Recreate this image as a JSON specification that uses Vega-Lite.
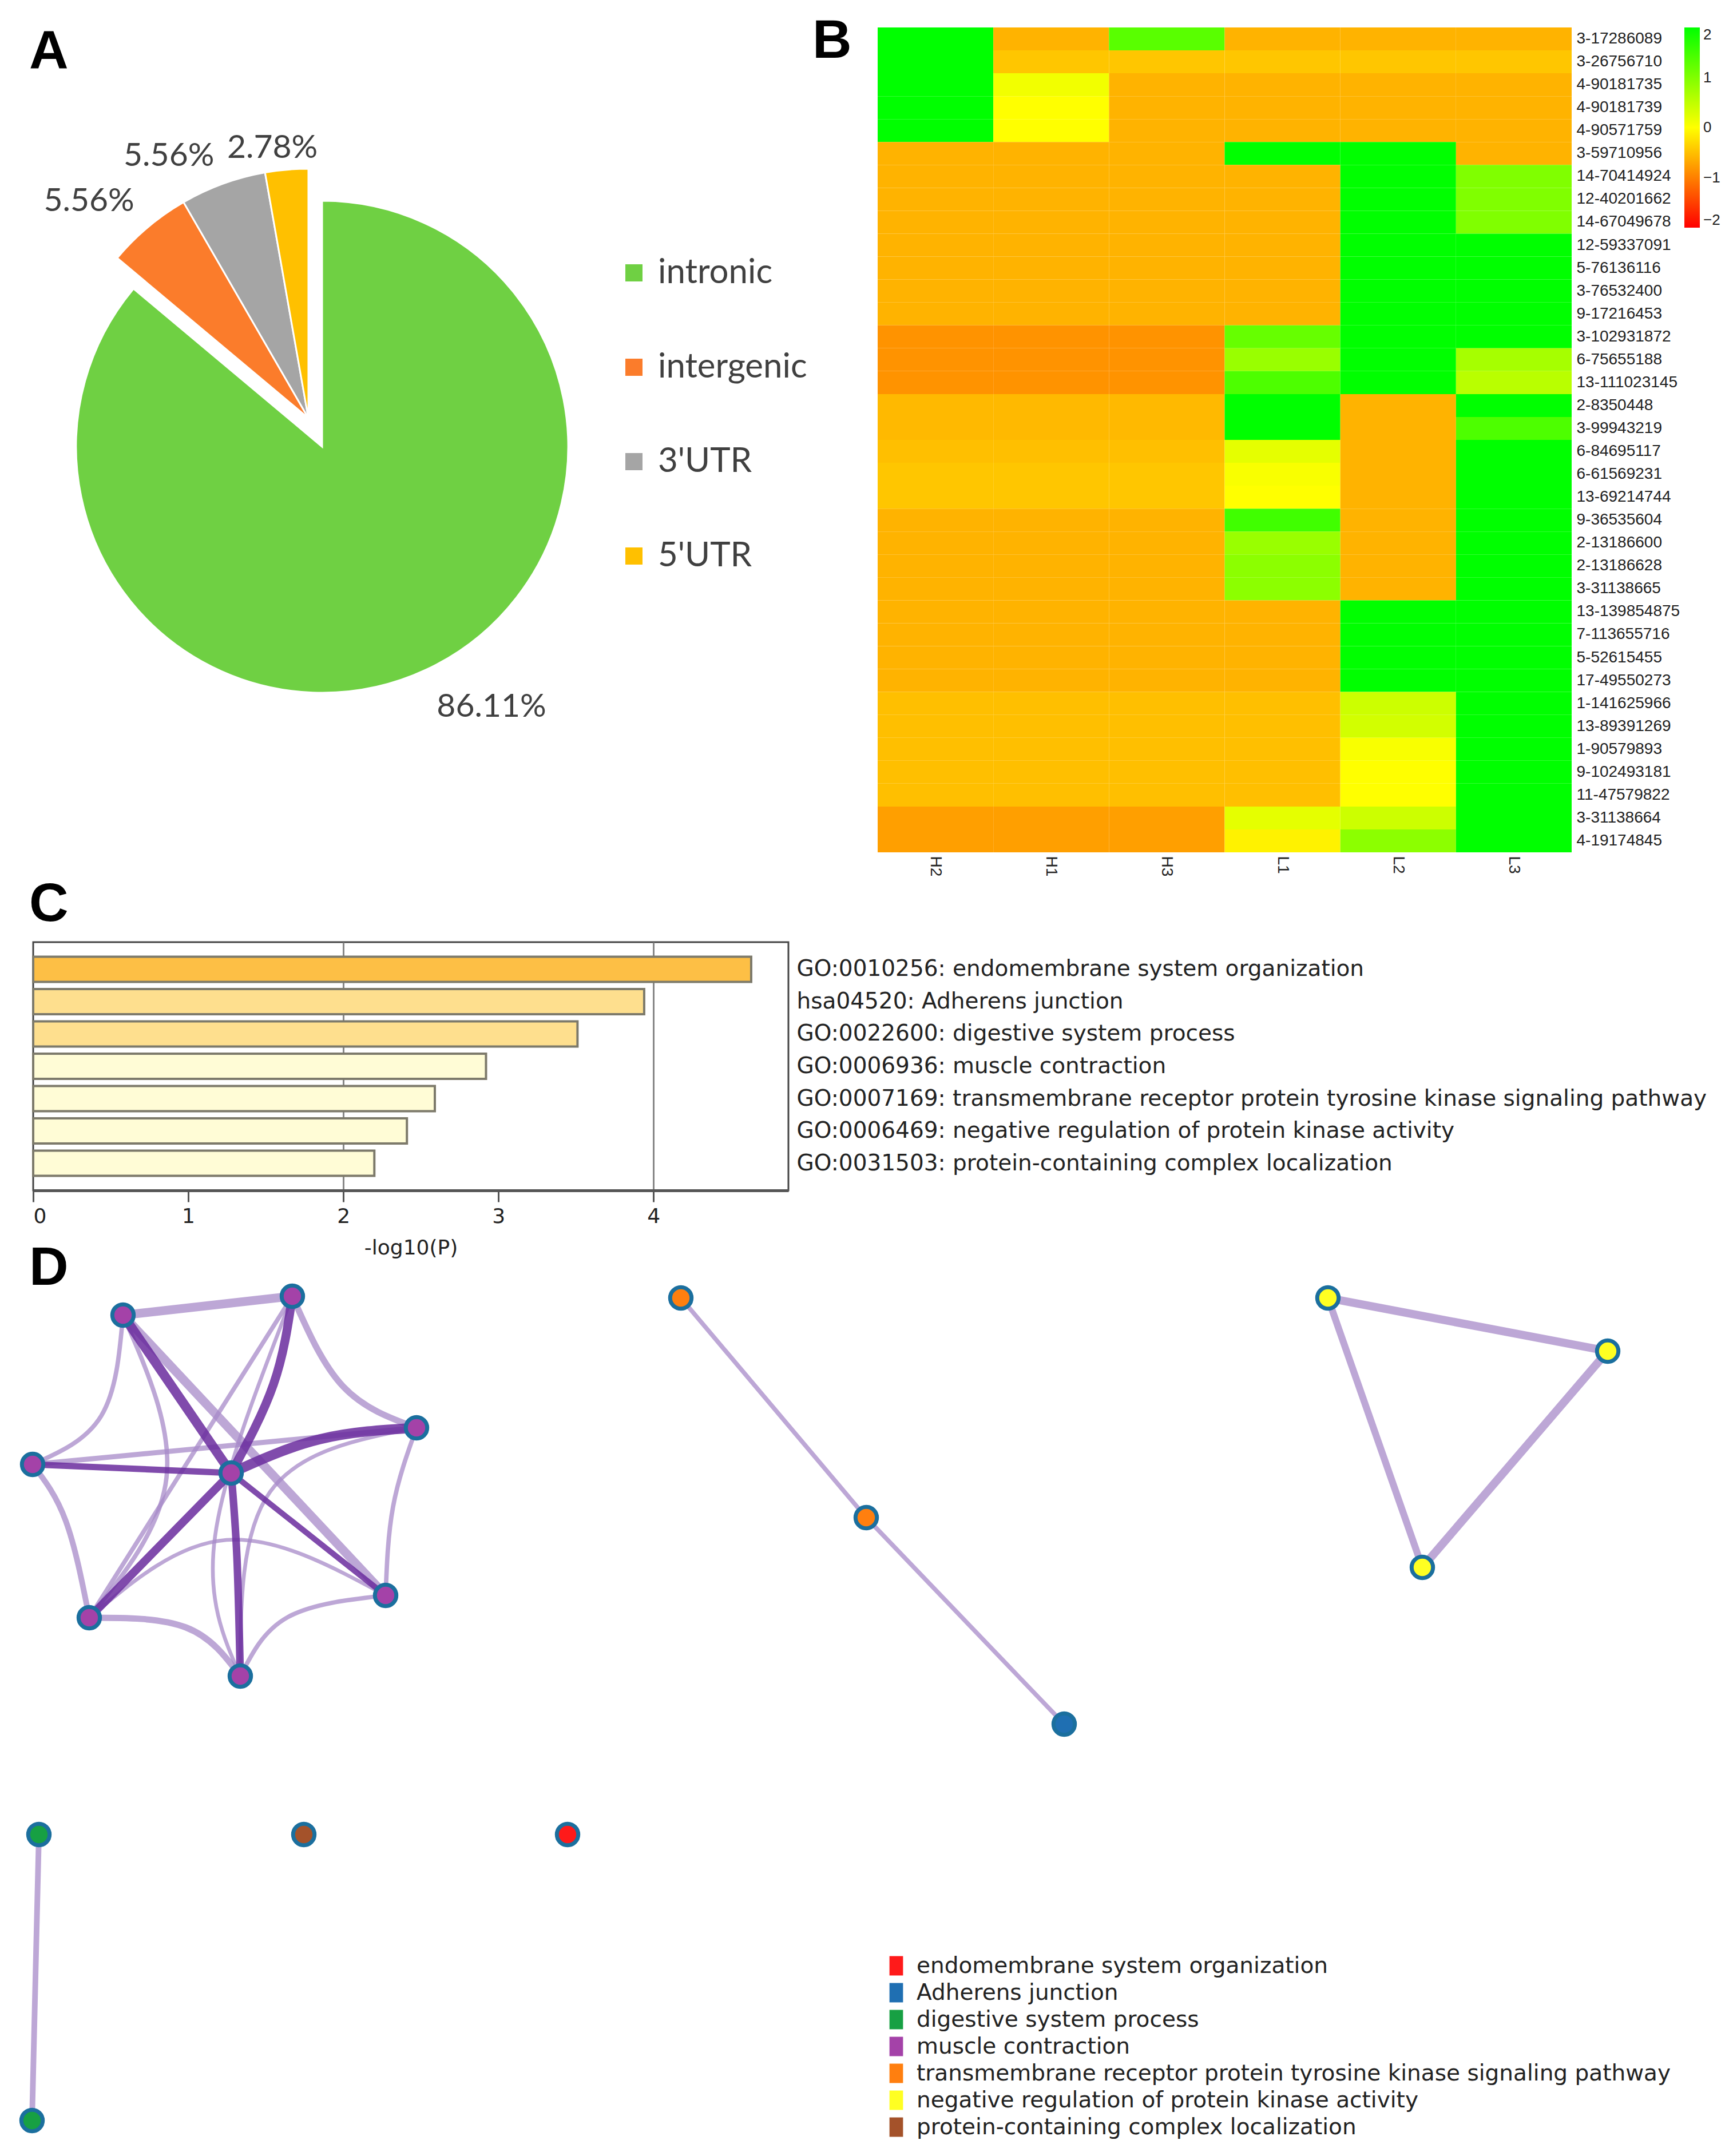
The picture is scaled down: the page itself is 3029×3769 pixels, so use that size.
{
  "$schema": "https://vega.github.io/schema/vega-lite/v6.json",
  "background": "white",
  "padding": {"left": 23, "top": 25, "right": 0, "bottom": 0},
  "spacing": 0,
  "config": {
    "view": {"stroke": null},
    "title": {"font": "Liberation Sans", "fontSize": 95, "fontWeight": "bold", "anchor": "start", "color": "#000000", "baseline": "top", "offset": 0, "frame": "group"}
  },
  "datasets": {
    "pie": [
      {"type": "intronic", "pct": 86.11, "label": "86.11%", "order": 1},
      {"type": "intergenic", "pct": 5.56, "label": "5.56%", "order": 2},
      {"type": "3'UTR", "pct": 5.56, "label": "5.56%", "order": 3},
      {"type": "5'UTR", "pct": 2.78, "label": "2.78%", "order": 4}
    ],
    "heat": [
      {"p": "3-17286089", "H2": 2, "H1": -0.6, "H3": 1.3, "L1": -0.6, "L2": -0.6, "L3": -0.6},
      {"p": "3-26756710", "H2": 2, "H1": -0.45, "H3": -0.45, "L1": -0.45, "L2": -0.45, "L3": -0.45},
      {"p": "4-90181735", "H2": 2, "H1": 0.1, "H3": -0.6, "L1": -0.6, "L2": -0.6, "L3": -0.6},
      {"p": "4-90181739", "H2": 2, "H1": 0, "H3": -0.6, "L1": -0.6, "L2": -0.6, "L3": -0.6},
      {"p": "4-90571759", "H2": 2, "H1": 0, "H3": -0.6, "L1": -0.6, "L2": -0.6, "L3": -0.6},
      {"p": "3-59710956", "H2": -0.6, "H1": -0.6, "H3": -0.6, "L1": 2, "L2": 2, "L3": -0.6},
      {"p": "14-70414924", "H2": -0.6, "H1": -0.6, "H3": -0.6, "L1": -0.6, "L2": 2, "L3": 1},
      {"p": "12-40201662", "H2": -0.6, "H1": -0.6, "H3": -0.6, "L1": -0.6, "L2": 2, "L3": 1},
      {"p": "14-67049678", "H2": -0.6, "H1": -0.6, "H3": -0.6, "L1": -0.6, "L2": 2, "L3": 1},
      {"p": "12-59337091", "H2": -0.6, "H1": -0.6, "H3": -0.6, "L1": -0.6, "L2": 2, "L3": 2},
      {"p": "5-76136116", "H2": -0.6, "H1": -0.6, "H3": -0.6, "L1": -0.6, "L2": 2, "L3": 2},
      {"p": "3-76532400", "H2": -0.6, "H1": -0.6, "H3": -0.6, "L1": -0.6, "L2": 2, "L3": 2},
      {"p": "9-17216453", "H2": -0.6, "H1": -0.6, "H3": -0.6, "L1": -0.6, "L2": 2, "L3": 2},
      {"p": "3-102931872", "H2": -0.85, "H1": -0.85, "H3": -0.85, "L1": 1.2, "L2": 2, "L3": 2},
      {"p": "6-75655188", "H2": -0.85, "H1": -0.85, "H3": -0.85, "L1": 0.8, "L2": 2, "L3": 0.7},
      {"p": "13-111023145", "H2": -0.85, "H1": -0.85, "H3": -0.85, "L1": 1.4, "L2": 2, "L3": 0.55},
      {"p": "2-8350448", "H2": -0.55, "H1": -0.55, "H3": -0.55, "L1": 2, "L2": -0.6, "L3": 2},
      {"p": "3-99943219", "H2": -0.55, "H1": -0.55, "H3": -0.55, "L1": 2, "L2": -0.6, "L3": 1.4},
      {"p": "6-84695117", "H2": -0.5, "H1": -0.5, "H3": -0.5, "L1": 0.2, "L2": -0.6, "L3": 2},
      {"p": "6-61569231", "H2": -0.45, "H1": -0.45, "H3": -0.45, "L1": 0.05, "L2": -0.6, "L3": 2},
      {"p": "13-69214744", "H2": -0.45, "H1": -0.45, "H3": -0.45, "L1": 0, "L2": -0.6, "L3": 2},
      {"p": "9-36535604", "H2": -0.6, "H1": -0.6, "H3": -0.6, "L1": 1.5, "L2": -0.6, "L3": 2},
      {"p": "2-13186600", "H2": -0.6, "H1": -0.6, "H3": -0.6, "L1": 0.8, "L2": -0.6, "L3": 2},
      {"p": "2-13186628", "H2": -0.6, "H1": -0.6, "H3": -0.6, "L1": 0.9, "L2": -0.6, "L3": 2},
      {"p": "3-31138665", "H2": -0.6, "H1": -0.6, "H3": -0.6, "L1": 0.9, "L2": -0.6, "L3": 2},
      {"p": "13-139854875", "H2": -0.6, "H1": -0.6, "H3": -0.6, "L1": -0.6, "L2": 2, "L3": 2},
      {"p": "7-113655716", "H2": -0.6, "H1": -0.6, "H3": -0.6, "L1": -0.6, "L2": 2, "L3": 2},
      {"p": "5-52615455", "H2": -0.6, "H1": -0.6, "H3": -0.6, "L1": -0.6, "L2": 2, "L3": 2},
      {"p": "17-49550273", "H2": -0.6, "H1": -0.6, "H3": -0.6, "L1": -0.6, "L2": 2, "L3": 2},
      {"p": "1-141625966", "H2": -0.5, "H1": -0.5, "H3": -0.5, "L1": -0.5, "L2": 0.4, "L3": 2},
      {"p": "13-89391269", "H2": -0.5, "H1": -0.5, "H3": -0.5, "L1": -0.5, "L2": 0.35, "L3": 2},
      {"p": "1-90579893", "H2": -0.5, "H1": -0.5, "H3": -0.5, "L1": -0.5, "L2": 0.05, "L3": 2},
      {"p": "9-102493181", "H2": -0.5, "H1": -0.5, "H3": -0.5, "L1": -0.5, "L2": 0, "L3": 2},
      {"p": "11-47579822", "H2": -0.5, "H1": -0.5, "H3": -0.5, "L1": -0.5, "L2": 0, "L3": 2},
      {"p": "3-31138664", "H2": -0.75, "H1": -0.75, "H3": -0.75, "L1": 0.2, "L2": 0.4, "L3": 2},
      {"p": "4-19174845", "H2": -0.75, "H1": -0.75, "H3": -0.75, "L1": -0.1, "L2": 0.9, "L3": 2}
    ],
    "enrich": [
      {"term": "GO:0010256: endomembrane system organization", "v": 4.63},
      {"term": "hsa04520: Adherens junction", "v": 3.94},
      {"term": "GO:0022600: digestive system process", "v": 3.51},
      {"term": "GO:0006936: muscle contraction", "v": 2.92},
      {"term": "GO:0007169: transmembrane receptor protein tyrosine kinase signaling pathway", "v": 2.59},
      {"term": "GO:0006469: negative regulation of protein kinase activity", "v": 2.41},
      {"term": "GO:0031503: protein-containing complex localization", "v": 2.2}
    ],
    "nodes": [
      {"id": "N1", "x": 217, "y": 2299, "term": "muscle contraction"},
      {"id": "N2", "x": 513, "y": 2266, "term": "muscle contraction"},
      {"id": "N3", "x": 730, "y": 2496, "term": "muscle contraction"},
      {"id": "N4", "x": 59, "y": 2560, "term": "muscle contraction"},
      {"id": "N5", "x": 406, "y": 2575, "term": "muscle contraction"},
      {"id": "N6", "x": 158, "y": 2828, "term": "muscle contraction"},
      {"id": "N7", "x": 676, "y": 2789, "term": "muscle contraction"},
      {"id": "N8", "x": 422, "y": 2930, "term": "muscle contraction"},
      {"id": "O1", "x": 1192, "y": 2269, "term": "transmembrane receptor protein tyrosine kinase signaling pathway"},
      {"id": "O2", "x": 1516, "y": 2653, "term": "transmembrane receptor protein tyrosine kinase signaling pathway"},
      {"id": "B1", "x": 1862, "y": 3014, "term": "Adherens junction"},
      {"id": "Y1", "x": 2323, "y": 2269, "term": "negative regulation of protein kinase activity"},
      {"id": "Y2", "x": 2812, "y": 2362, "term": "negative regulation of protein kinase activity"},
      {"id": "Y3", "x": 2488, "y": 2740, "term": "negative regulation of protein kinase activity"},
      {"id": "G1", "x": 70, "y": 3207, "term": "digestive system process"},
      {"id": "G2", "x": 58, "y": 3707, "term": "digestive system process"},
      {"id": "Br", "x": 533, "y": 3207, "term": "protein-containing complex localization"},
      {"id": "R", "x": 994, "y": 3207, "term": "endomembrane system organization"}
    ],
    "edges": [
      {"e": "h1", "k": "hub", "i": 0, "x": 406, "y": 2575, "w": 15},
      {"e": "h1", "k": "hub", "i": 1, "x": 217, "y": 2299, "w": 15},
      {"e": "h2", "k": "hub", "i": 0, "x": 406, "y": 2575, "w": 14},
      {"e": "h2", "k": "hub", "i": 1, "x": 480, "y": 2420, "w": 14},
      {"e": "h2", "k": "hub", "i": 2, "x": 513, "y": 2266, "w": 14},
      {"e": "h3", "k": "hub", "i": 0, "x": 406, "y": 2575, "w": 16},
      {"e": "h3", "k": "hub", "i": 1, "x": 561, "y": 2516, "w": 16},
      {"e": "h3", "k": "hub", "i": 2, "x": 730, "y": 2496, "w": 16},
      {"e": "h4", "k": "hub", "i": 0, "x": 406, "y": 2575, "w": 10},
      {"e": "h4", "k": "hub", "i": 1, "x": 59, "y": 2560, "w": 10},
      {"e": "h5", "k": "hub", "i": 0, "x": 406, "y": 2575, "w": 13},
      {"e": "h5", "k": "hub", "i": 1, "x": 158, "y": 2828, "w": 13},
      {"e": "h6", "k": "hub", "i": 0, "x": 406, "y": 2575, "w": 9},
      {"e": "h6", "k": "hub", "i": 1, "x": 676, "y": 2789, "w": 9},
      {"e": "h7", "k": "hub", "i": 0, "x": 406, "y": 2575, "w": 12},
      {"e": "h7", "k": "hub", "i": 1, "x": 416, "y": 2720, "w": 12},
      {"e": "h7", "k": "hub", "i": 2, "x": 422, "y": 2930, "w": 12},
      {"e": "w1", "k": "weak", "i": 0, "x": 217, "y": 2299, "w": 14},
      {"e": "w1", "k": "weak", "i": 1, "x": 513, "y": 2266, "w": 14},
      {"e": "w2", "k": "weak", "i": 0, "x": 513, "y": 2266, "w": 10},
      {"e": "w2", "k": "weak", "i": 1, "x": 602, "y": 2424, "w": 10},
      {"e": "w2", "k": "weak", "i": 2, "x": 730, "y": 2496, "w": 10},
      {"e": "w3", "k": "weak", "i": 0, "x": 730, "y": 2496, "w": 7},
      {"e": "w3", "k": "weak", "i": 1, "x": 689, "y": 2634, "w": 7},
      {"e": "w3", "k": "weak", "i": 2, "x": 676, "y": 2789, "w": 7},
      {"e": "w4", "k": "weak", "i": 0, "x": 676, "y": 2789, "w": 7},
      {"e": "w4", "k": "weak", "i": 1, "x": 505, "y": 2827, "w": 7},
      {"e": "w4", "k": "weak", "i": 2, "x": 422, "y": 2930, "w": 7},
      {"e": "w5", "k": "weak", "i": 0, "x": 422, "y": 2930, "w": 10},
      {"e": "w5", "k": "weak", "i": 1, "x": 327, "y": 2845, "w": 10},
      {"e": "w5", "k": "weak", "i": 2, "x": 158, "y": 2828, "w": 10},
      {"e": "w6", "k": "weak", "i": 0, "x": 158, "y": 2828, "w": 9},
      {"e": "w6", "k": "weak", "i": 1, "x": 117, "y": 2659, "w": 9},
      {"e": "w6", "k": "weak", "i": 2, "x": 59, "y": 2560, "w": 9},
      {"e": "w7", "k": "weak", "i": 0, "x": 59, "y": 2560, "w": 7},
      {"e": "w7", "k": "weak", "i": 1, "x": 179, "y": 2475, "w": 7},
      {"e": "w7", "k": "weak", "i": 2, "x": 217, "y": 2299, "w": 7},
      {"e": "w8", "k": "weak", "i": 0, "x": 217, "y": 2299, "w": 14},
      {"e": "w8", "k": "weak", "i": 1, "x": 676, "y": 2789, "w": 14},
      {"e": "w9", "k": "weak", "i": 0, "x": 513, "y": 2266, "w": 7},
      {"e": "w9", "k": "weak", "i": 1, "x": 158, "y": 2828, "w": 7},
      {"e": "w10", "k": "weak", "i": 0, "x": 59, "y": 2560, "w": 8},
      {"e": "w10", "k": "weak", "i": 1, "x": 730, "y": 2496, "w": 8},
      {"e": "w11", "k": "weak", "i": 0, "x": 217, "y": 2299, "w": 7},
      {"e": "w11", "k": "weak", "i": 1, "x": 293, "y": 2583, "w": 7},
      {"e": "w11", "k": "weak", "i": 2, "x": 158, "y": 2828, "w": 7},
      {"e": "w12", "k": "weak", "i": 0, "x": 158, "y": 2828, "w": 6},
      {"e": "w12", "k": "weak", "i": 1, "x": 398, "y": 2692, "w": 6},
      {"e": "w12", "k": "weak", "i": 2, "x": 676, "y": 2789, "w": 6},
      {"e": "w13", "k": "weak", "i": 0, "x": 513, "y": 2266, "w": 6},
      {"e": "w13", "k": "weak", "i": 1, "x": 378, "y": 2685, "w": 6},
      {"e": "w13", "k": "weak", "i": 2, "x": 422, "y": 2930, "w": 6},
      {"e": "w14", "k": "weak", "i": 0, "x": 730, "y": 2496, "w": 6},
      {"e": "w14", "k": "weak", "i": 1, "x": 474, "y": 2608, "w": 6},
      {"e": "w14", "k": "weak", "i": 2, "x": 422, "y": 2930, "w": 6},
      {"e": "w15", "k": "weak", "i": 0, "x": 1192, "y": 2269, "w": 7},
      {"e": "w15", "k": "weak", "i": 1, "x": 1516, "y": 2653, "w": 7},
      {"e": "w16", "k": "weak", "i": 0, "x": 1516, "y": 2653, "w": 7},
      {"e": "w16", "k": "weak", "i": 1, "x": 1862, "y": 3014, "w": 7},
      {"e": "w17", "k": "weak", "i": 0, "x": 2323, "y": 2269, "w": 13},
      {"e": "w17", "k": "weak", "i": 1, "x": 2812, "y": 2362, "w": 13},
      {"e": "w18", "k": "weak", "i": 0, "x": 2812, "y": 2362, "w": 13},
      {"e": "w18", "k": "weak", "i": 1, "x": 2488, "y": 2740, "w": 13},
      {"e": "w19", "k": "weak", "i": 0, "x": 2323, "y": 2269, "w": 11},
      {"e": "w19", "k": "weak", "i": 1, "x": 2488, "y": 2740, "w": 11},
      {"e": "w20", "k": "weak", "i": 0, "x": 70, "y": 3207, "w": 9},
      {"e": "w20", "k": "weak", "i": 1, "x": 58, "y": 3707, "w": 9}
    ]
  },
  "vconcat": [
    {
      "bounds": "flush",
      "spacing": 466,
      "hconcat": [
        {
          "width": 1010,
          "height": 1466,
          "title": {"text": "A", "dx": -7, "dy": 96},
          "data": {"name": "pie"},
          "encoding": {
            "theta": {"field": "pct", "type": "quantitative", "stack": true},
            "order": {"field": "order", "type": "quantitative"}
          },
          "layer": [
            {
              "mark": {"type": "arc", "outerRadius": 430, "stroke": "white", "strokeWidth": 3},
              "encoding": {
                "color": {"field": "type", "type": "nominal", "sort": ["intronic", "intergenic", "3'UTR", "5'UTR"],
                  "scale": {"domain": ["intronic", "intergenic", "3'UTR", "5'UTR"], "range": ["#6fd043", "#fb7c2b", "#a5a5a5", "#ffc000"]},
                  "legend": {"orient": "none", "legendX": 1020, "legendY": 399, "title": null, "symbolType": "square", "symbolSize": 900, "symbolStrokeWidth": 0, "labelFontSize": 60, "labelFont": "Lato", "labelColor": "#404040", "rowPadding": 105, "labelOffset": 12, "labelLimit": 0}},
                "fillOpacity": {"condition": {"test": "datum.type === 'intronic'", "value": 1}, "value": 0},
                "strokeOpacity": {"condition": {"test": "datum.type === 'intronic'", "value": 1}, "value": 0}
              }
            },
            {
              "mark": {"type": "arc", "outerRadius": 436, "stroke": "white", "strokeWidth": 3, "xOffset": -24, "yOffset": -50},
              "encoding": {
                "color": {"field": "type", "type": "nominal", "sort": ["intronic", "intergenic", "3'UTR", "5'UTR"]},
                "fillOpacity": {"condition": {"test": "datum.type === 'intronic'", "value": 0}, "value": 1},
                "strokeOpacity": {"condition": {"test": "datum.type === 'intronic'", "value": 0}, "value": 1}
              }
            },
            {
              "mark": {"type": "text", "radius": 543, "thetaOffset": -0.14, "fontSize": 57, "font": "Lato", "color": "#404040"},
              "encoding": {
                "text": {"field": "label", "type": "nominal"},
                "opacity": {"condition": {"test": "datum.type === 'intronic'", "value": 1}, "value": 0}
              }
            },
            {
              "transform": [
                {"stack": "pct", "groupby": [], "sort": [{"field": "order", "order": "ascending"}], "as": ["t0", "t1"]},
                {"filter": "datum.order === 2"}
              ],
              "mark": {"type": "text", "radius": 539, "thetaOffset": 0.082, "fontSize": 57, "font": "Lato", "color": "#404040", "xOffset": -24, "yOffset": -50},
              "encoding": {
                "theta": {"field": "t0", "type": "quantitative", "stack": null},
                "text": {"field": "label", "type": "nominal"}
              }
            },
            {
              "transform": [
                {"stack": "pct", "groupby": [], "sort": [{"field": "order", "order": "ascending"}], "as": ["t0", "t1"]},
                {"filter": "datum.order === 3"}
              ],
              "mark": {"type": "text", "radius": 519, "thetaOffset": 0.035, "fontSize": 57, "font": "Lato", "color": "#404040", "xOffset": -24, "yOffset": -50},
              "encoding": {
                "theta": {"field": "t0", "type": "quantitative", "stack": null},
                "text": {"field": "label", "type": "nominal"}
              }
            },
            {
              "transform": [
                {"stack": "pct", "groupby": [], "sort": [{"field": "order", "order": "ascending"}], "as": ["t0", "t1"]},
                {"filter": "datum.order === 4"}
              ],
              "mark": {"type": "text", "radius": 476, "thetaOffset": 0.042, "fontSize": 57, "font": "Lato", "color": "#404040", "xOffset": -24, "yOffset": -50},
              "encoding": {
                "theta": {"field": "t0", "type": "quantitative", "stack": null},
                "text": {"field": "label", "type": "nominal"}
              }
            }
          ]
        },
        {
          "width": 1213,
          "height": 1442,
          "title": {"text": "B", "dx": -114, "dy": 77},
          "data": {"name": "heat"},
          "transform": [{"fold": ["H2", "H1", "H3", "L1", "L2", "L3"], "as": ["s", "v"]}],
          "mark": {"type": "rect"},
          "encoding": {
            "x": {"field": "s", "type": "nominal", "sort": ["H2", "H1", "H3", "L1", "L2", "L3"],
              "scale": {"paddingInner": 0, "paddingOuter": 0},
              "axis": {"title": null, "labelAngle": 90, "labelAlign": "left", "labelBaseline": "middle", "labelFontSize": 28, "labelFont": "Liberation Sans", "labelColor": "#222", "ticks": false, "domain": false, "labelPadding": 6}},
            "y": {"field": "p", "type": "nominal", "sort": null,
              "scale": {"paddingInner": 0, "paddingOuter": 0},
              "axis": {"orient": "right", "title": null, "ticks": false, "domain": false, "labelFontSize": 28, "labelFont": "Liberation Sans", "labelColor": "#222", "labelPadding": 8, "labelLimit": 0}},
            "color": {"field": "v", "type": "quantitative",
              "scale": {"domain": [-2, 0, 2], "range": ["#ff0000", "#ffff00", "#00ff00"], "interpolate": "rgb"},
              "legend": {"orient": "none", "legendX": 1410, "legendY": 0, "title": null, "direction": "vertical", "gradientLength": 350, "gradientThickness": 27, "gradientStrokeWidth": 0, "values": [-2, -1, 0, 1, 2], "format": "d", "labelFontSize": 26, "labelFont": "Liberation Sans", "labelColor": "#222", "labelOffset": 6}}
          }
        }
      ]
    },
    {
      "bounds": "flush",
      "spacing": 82,
      "vconcat": [
        {
          "width": 1320,
          "height": 434,
          "view": {"stroke": "#444444", "strokeWidth": 3},
          "title": {"text": "C", "dx": -7, "dy": -13},
          "data": {"name": "enrich"},
          "mark": {"type": "bar", "stroke": "#7d7a6b", "strokeWidth": 4},
          "encoding": {
            "y": {"field": "term", "type": "nominal", "sort": null,
              "scale": {"paddingInner": 0.22, "paddingOuter": 0.45},
              "axis": {"orient": "right", "title": null, "ticks": false, "domain": false, "labelFontSize": 39, "labelFont": "DejaVu Sans", "labelColor": "#222", "labelPadding": 14, "labelLimit": 0}},
            "x": {"field": "v", "type": "quantitative", "scale": {"domain": [0, 4.87], "nice": false},
              "axis": {"title": "-log10(P)", "values": [0, 1, 2, 3, 4], "grid": true,
                "gridColor": {"condition": {"test": "datum.value === 2 || datum.value === 4", "value": "#888888"}, "value": "transparent"},
                "gridWidth": 3, "tickSize": 20, "tickColor": "#555555", "tickWidth": 3, "domainColor": "#555555", "domainWidth": 5,
                "labelFontSize": 36, "labelFont": "DejaVu Sans", "labelColor": "#222", "labelPadding": 8,
                "titleFontSize": 36, "titleFont": "DejaVu Sans", "titleFontWeight": "normal", "titleColor": "#222", "titlePadding": 20}},
            "color": {"field": "v", "type": "quantitative",
              "scale": {"type": "threshold", "domain": [3, 4.3], "range": ["#fffcd6", "#fedf8e", "#fdbf45"]}, "legend": null}
          }
        },
        {
          "width": 2949,
          "height": 1586,
          "title": {"text": "D", "dx": -7, "dy": 107},
          "layer": [
            {
              "data": {"name": "edges"},
              "transform": [{"filter": "datum.k === 'weak'"}],
              "mark": {"type": "line", "interpolate": "natural", "color": "#a78ac8", "opacity": 0.75, "strokeCap": "round"},
              "encoding": {
                "x": {"field": "x", "type": "quantitative", "scale": {"domain": [60, 3009], "nice": false, "zero": false}, "axis": null},
                "y": {"field": "y", "type": "quantitative", "scale": {"domain": [2163, 3749], "nice": false, "zero": false, "reverse": true}, "axis": null},
                "detail": {"field": "e", "type": "nominal"},
                "order": {"field": "i", "type": "quantitative"},
                "strokeWidth": {"field": "w", "type": "quantitative", "scale": {"domain": [0, 20], "range": [0, 22]}, "legend": null}
              }
            },
            {
              "data": {"name": "edges"},
              "transform": [{"filter": "datum.k === 'hub'"}],
              "mark": {"type": "line", "interpolate": "natural", "color": "#6a2c9e", "opacity": 0.85, "strokeCap": "round"},
              "encoding": {
                "x": {"field": "x", "type": "quantitative"},
                "y": {"field": "y", "type": "quantitative"},
                "detail": {"field": "e", "type": "nominal"},
                "order": {"field": "i", "type": "quantitative"},
                "strokeWidth": {"field": "w", "type": "quantitative", "legend": null}
              }
            },
            {
              "data": {"name": "nodes"},
              "mark": {"type": "point", "shape": "circle", "filled": true, "size": 1400, "stroke": "#1b6f9e", "strokeWidth": 7, "opacity": 1},
              "encoding": {
                "x": {"field": "x", "type": "quantitative"},
                "y": {"field": "y", "type": "quantitative"},
                "color": {"field": "term", "type": "nominal",
                  "sort": ["endomembrane system organization", "Adherens junction", "digestive system process", "muscle contraction", "transmembrane receptor protein tyrosine kinase signaling pathway", "negative regulation of protein kinase activity", "protein-containing complex localization"],
                  "scale": {"domain": ["endomembrane system organization", "Adherens junction", "digestive system process", "muscle contraction", "transmembrane receptor protein tyrosine kinase signaling pathway", "negative regulation of protein kinase activity", "protein-containing complex localization"],
                    "range": ["#ff1a1a", "#1f6fb2", "#17a043", "#a442a8", "#ff7f0f", "#ffff22", "#a4522a"]},
                  "legend": {"orient": "none", "legendX": 1489, "legendY": 1254, "title": null, "symbolType": "M-0.7,-1H0.7V1H-0.7Z", "symbolSize": 1150, "symbolStrokeWidth": 0, "symbolOpacity": 1, "labelFontSize": 39, "labelFont": "DejaVu Sans", "labelColor": "#222", "rowPadding": 7, "labelOffset": 16, "labelLimit": 0}}
              }
            }
          ]
        }
      ]
    }
  ]
}
